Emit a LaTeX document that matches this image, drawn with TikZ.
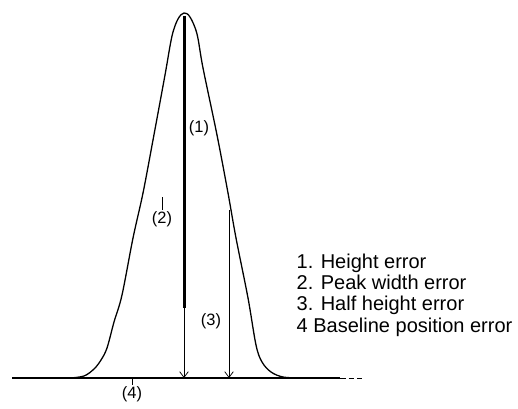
\documentclass[tikz,border=0pt]{standalone}
\usepackage{fontspec}
\setmainfont{Liberation Sans}
\usetikzlibrary{arrows.meta, positioning}
\tikzset{>={Straight Barb[length=4pt,width=6pt]}}

\begin{document}
\begin{tikzpicture}[x=0.7pt, y=-0.7pt, every node/.style={font=\fontsize{11.5}{13}\selectfont, inner sep=1pt},
    peakline/.style={line width=0.9pt, line join=round},
    heightbar/.style={line width=2.1pt},
    leader/.style={line width=0.5pt},
    legendtext/.style={anchor=base west, font=\fontsize{14}{16}\selectfont}]
  \useasboundingbox (0,0) rectangle (518,408);

  % baseline
  \coordinate (bl) at (12,378);
  \coordinate (br) at (340,378);
  \coordinate (bend) at (362,378);
  \draw[line width=1pt] (bl) -- (br);
  \draw[line width=0.7pt, dash pattern=on 4pt off 2pt] (br) -- (bend);

  % the peak
  \draw[peakline] plot[smooth, tension=0.55] coordinates {(70,378) (84,376) (94,369) (101,360)
    (107,348) (114,322) (122,295) (133,238) (143,193) (153,140) (165,75) (172,36) (178,19) (184,13)
    (190,17) (197,34) (203,68) (217,135) (228,193) (236,238) (248,298) (256,345) (262,362) (271,372)
    (283,377) (300,378)};

  % height line
  \coordinate (top) at (184,16);
  \coordinate (mid) at (184,308);
  \coordinate (foot) at (184,378);
  \draw[heightbar] (top) -- (mid);
  \draw[leader, ->] (mid) -- (foot);

  % half height line
  \coordinate (halftop) at (229,210);
  \coordinate (halffoot) at (229,378);
  \draw[leader, ->] (halftop) -- (halffoot);

  % labels
  \node (lab1) at (199,128) {(1)};
  \node (lab2) at (162,219) {(2)};
  \node (lab3) at (211,321) {(3)};
  \node (lab4) at (132,394) {(4)};
  \coordinate (tick2) at (162,197);
  \coordinate (tick4) at (132,378);
  \draw[leader] (lab2) -- (tick2);
  \draw[leader] (lab4) -- (tick4);

  % legend
  \node[legendtext] (leg1) at (295,268) {1. Height error};
  \node[legendtext] (leg2) at (295,289) {2. Peak width error};
  \node[legendtext] (leg3) at (295,310) {3. Half height error};
  \node[legendtext] (leg4) at (295,332) {4 Baseline position error};
\end{tikzpicture}
\end{document}
